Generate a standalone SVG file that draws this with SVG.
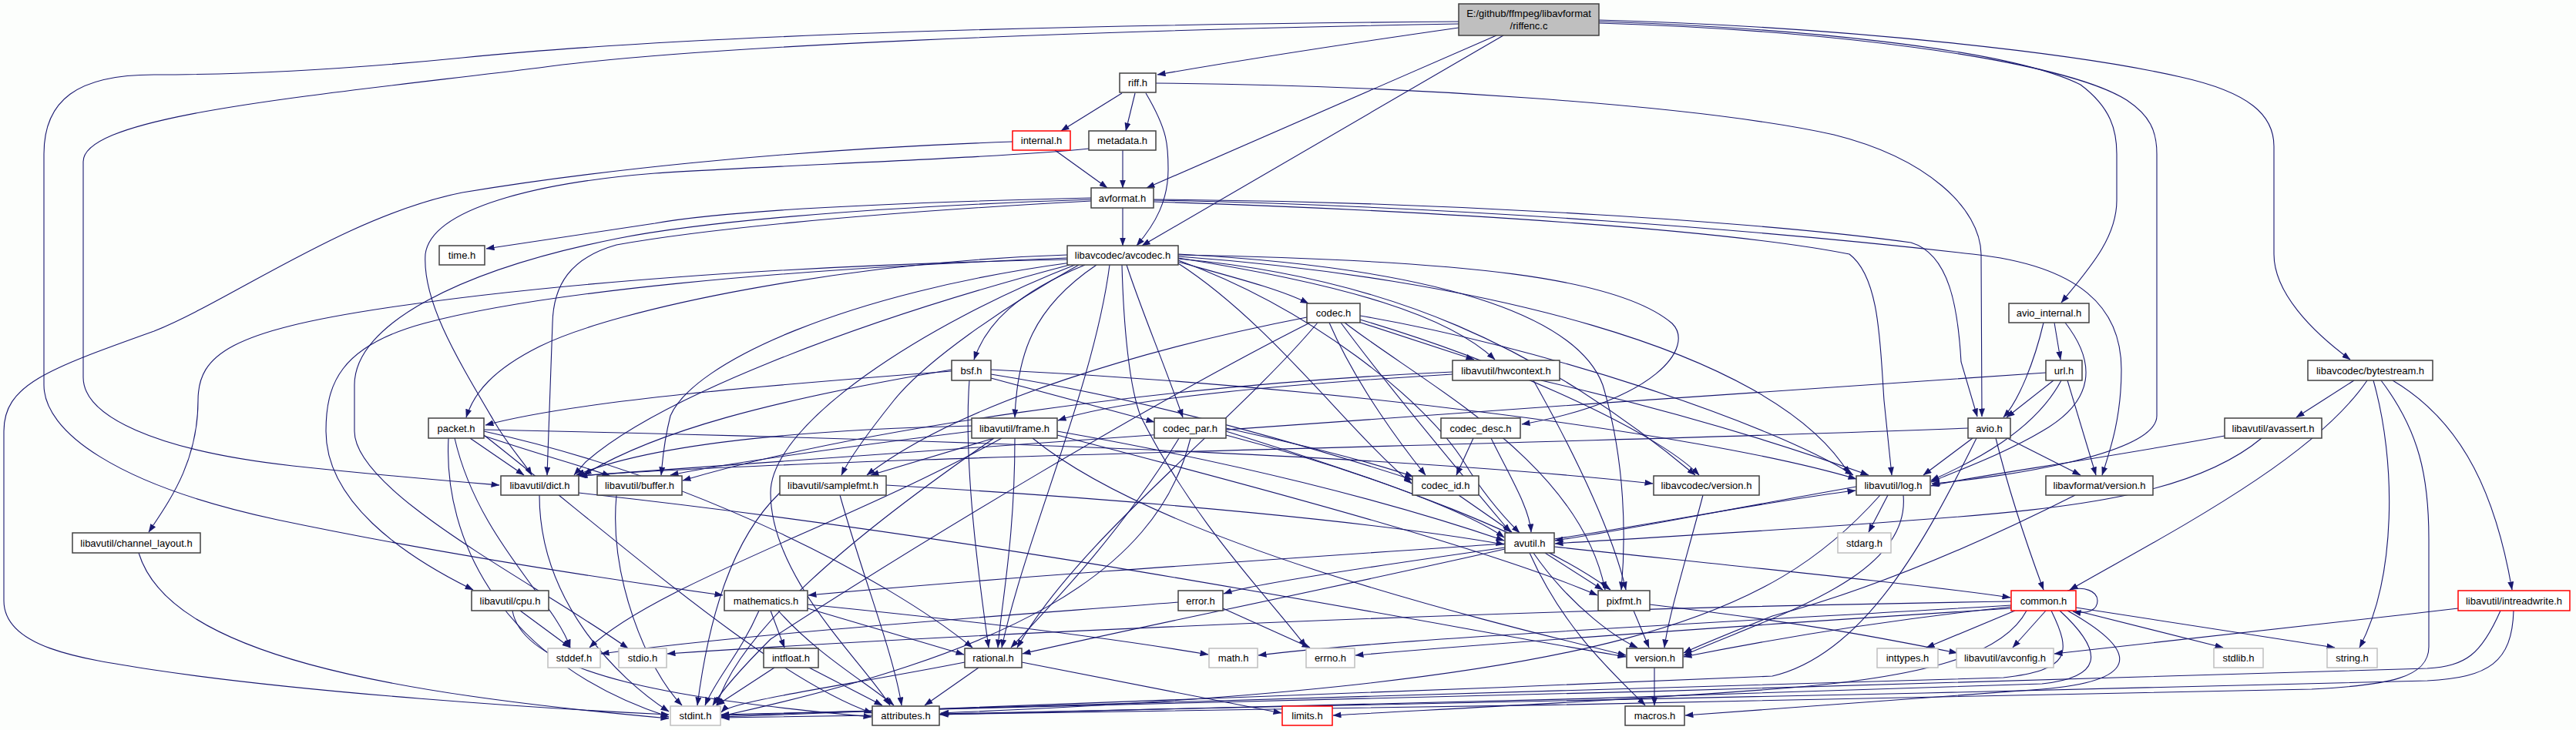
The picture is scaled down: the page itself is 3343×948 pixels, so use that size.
<svg xmlns="http://www.w3.org/2000/svg" width="3343" height="948" viewBox="0 0 3343 948">
<style>
.n rect{fill:#fff;stroke:#404040;stroke-width:1.5}
.g rect{fill:#fff;stroke:#bfbfbf;stroke-width:1.5}
.r rect{fill:#fff;stroke:#ff0000;stroke-width:1.5}
.root rect{fill:#bfbfbf;stroke:#404040;stroke-width:1.5}
text{font-family:"Liberation Sans",Arial,Helvetica,sans-serif;font-size:13px;text-anchor:middle;fill:#000}
#edges path{fill:none;stroke:#191970;stroke-width:1.1;marker-end:url(#a)}
</style>
<defs>
<marker id="a" markerWidth="11" markerHeight="8" refX="10.5" refY="4" orient="auto" markerUnits="userSpaceOnUse"><path d="M0,0 L11,4 L0,8 z" fill="#191970" stroke="none"/></marker>
</defs>
<rect x="0" y="0" width="3343" height="948" fill="#fcfefc"/>
<g id="edges">
<path d="M1893,36 C1760,55 1600,80 1502,97"/>
<path d="M1942,46 L1488,244"/>
<path d="M1951,46 L1482,319"/>
<path d="M1893,28 C1400,32 900,45 600,75 C420,93 300,97 200,97 C100,97 57,130 57,200 L57,500 C57,560 150,630 360,675 C560,717 760,748 938,773"/>
<path d="M1893,31 C1400,40 900,60 700,88 C400,125 108,150 108,210 L108,490 C108,540 200,585 380,605 C500,618 600,626 648,630"/>
<path d="M2075,28 C2300,35 2600,60 2700,110 C2740,140 2747,170 2747,200 L2747,260 C2747,310 2710,350 2675,393"/>
<path d="M2075,30 C2400,40 2680,80 2760,130 C2790,150 2799,170 2799,200 L2799,540 C2799,590 2600,620 2507,628"/>
<path d="M2075,26 C2400,35 2700,70 2830,100 C2920,120 2951,150 2951,190 L2951,330 C2951,380 3000,430 3050,467"/>
<path d="M1456,121 L1377,170"/>
<path d="M1473,121 L1461,170"/>
<path d="M1487,121 C1516,170 1516,190 1516,220 C1516,260 1500,290 1475,319"/>
<path d="M1500,108 C1800,110 2200,135 2380,175 C2500,205 2570,270 2571,330 L2572,541"/>
<path d="M1369,195 L1437,244"/>
<path d="M1314,184 C1000,195 750,225 600,250 C450,280 300,390 200,430 C60,480 5,500 5,560 L5,780 C5,840 100,855 200,870 C400,900 700,920 868,928"/>
<path d="M1457,195 L1457,244"/>
<path d="M1413,193 C1300,205 1000,215 850,225 C700,237 560,270 552,330 C548,390 590,460 640,545 C660,580 680,600 690,617"/>
<path d="M1457,270 L1457,319"/>
<path d="M1416,257 C1200,262 950,272 850,290 C750,305 680,315 631,323"/>
<path d="M1416,259 C1100,270 900,290 800,310 C600,350 460,420 460,500 L460,560 C460,640 700,760 815,842"/>
<path d="M1416,261 C1100,278 900,300 800,318 C740,335 718,370 717,420 L710,617"/>
<path d="M1497,262 C1900,275 2250,300 2400,330 C2440,360 2440,450 2445,520 L2455,617"/>
<path d="M1497,259 C1900,262 2300,290 2480,315 C2530,330 2541,400 2545,470 L2566,541"/>
<path d="M1497,260 C1900,268 2300,300 2560,330 C2700,345 2753,400 2753,480 C2753,540 2740,580 2728,617"/>
<path d="M1456,344 C1458,420 1465,500 1480,540 C1550,680 1650,780 1695,840"/>
<path d="M1400,344 C1300,400 1200,470 1160,520 C1120,570 1100,600 1092,617"/>
<path d="M1395,344 C1200,420 1000,550 1000,640 C1000,750 1120,860 1155,916"/>
<path d="M1529,338 C1700,400 1850,520 1900,600 C1930,650 1960,680 1972,692"/>
<path d="M1390,341 C1100,380 900,470 870,540 C860,580 860,600 858,617"/>
<path d="M1385,335 C1000,350 700,380 550,420 C440,450 423,500 423,560 C423,650 520,720 614,766"/>
<path d="M1385,337 C1000,345 700,370 500,400 C300,430 257,460 257,520 C257,600 220,650 193,691"/>
<path d="M1388,344 C1100,420 850,520 760,600 L745,617"/>
<path d="M1423,344 C1340,400 1320,460 1317,542"/>
<path d="M1529,335 C1750,370 1880,410 1940,467"/>
<path d="M1529,333 C1900,360 2300,450 2400,616"/>
<path d="M1529,330 C1900,350 2050,420 2080,500 C2110,600 2110,700 2104,766"/>
<path d="M1440,344 C1420,500 1330,700 1300,841"/>
<path d="M1408,344 C1320,380 1280,420 1264,467"/>
<path d="M1529,340 C1600,360 1660,375 1698,394"/>
<path d="M1529,331 C1900,338 2100,360 2170,420 C2200,450 2150,520 1975,551"/>
<path d="M1462,344 C1480,400 1510,470 1535,542"/>
<path d="M1529,342 C1650,420 1750,560 1832,628"/>
<path d="M1385,331 C1100,340 800,400 700,450 C640,480 615,510 605,542"/>
<path d="M1529,336 C1800,360 2000,450 2200,617"/>
<path d="M1700,419 C1500,520 1200,700 1000,830 C960,870 935,900 925,916"/>
<path d="M1740,419 C1800,500 1900,620 1960,691"/>
<path d="M1763,418 L1913,467"/>
<path d="M1765,410 C2000,450 2300,550 2405,617"/>
<path d="M1745,419 C1850,500 2050,600 2083,766"/>
<path d="M1710,419 C1600,550 1400,700 1320,841"/>
<path d="M1696,412 C1500,450 1250,520 1125,617"/>
<path d="M1725,419 C1760,500 1820,580 1850,617"/>
<path d="M1765,415 C1950,470 2150,560 2205,617"/>
<path d="M1235,480 C1000,520 850,560 757,617"/>
<path d="M1286,480 C1700,500 2200,560 2409,622"/>
<path d="M1258,494 C1250,600 1270,750 1283,841"/>
<path d="M1286,486 C1500,520 1700,580 1833,623"/>
<path d="M1286,491 L1498,548"/>
<path d="M1235,482 C1000,500 750,520 630,552"/>
<path d="M590,569 C620,700 720,780 740,841"/>
<path d="M582,569 C575,700 650,860 868,931"/>
<path d="M628,565 C800,700 1000,880 1132,926"/>
<path d="M628,566 C700,590 760,607 792,618"/>
<path d="M610,569 L680,617"/>
<path d="M628,560 C900,620 1150,750 1262,841"/>
<path d="M628,558 C1200,570 1800,590 2145,628"/>
<path d="M1300,569 C1100,680 850,760 765,841"/>
<path d="M1290,569 C1100,700 960,820 930,916"/>
<path d="M1372,560 C1600,600 1800,650 1952,702"/>
<path d="M1261,560 C1100,580 950,600 870,617"/>
<path d="M1261,553 C1050,558 850,575 748,617"/>
<path d="M1317,569 C1317,700 1300,780 1295,841"/>
<path d="M1290,569 L1130,617"/>
<path d="M1372,565 C1700,650 1950,720 2073,773"/>
<path d="M1340,569 C1500,700 1900,800 2110,851"/>
<path d="M1545,569 C1500,750 1300,850 936,930"/>
<path d="M1591,560 C1750,610 1900,660 1952,698"/>
<path d="M1530,569 C1450,700 1350,800 1312,841"/>
<path d="M1591,565 C1800,620 2000,700 2090,766"/>
<path d="M1591,556 C1700,580 1780,600 1834,619"/>
<path d="M1935,569 C1960,620 1985,660 1987,691"/>
<path d="M1912,569 L1890,617"/>
<path d="M1893,643 L1962,691"/>
<path d="M2210,643 C2190,720 2165,800 2160,841"/>
<path d="M1885,483 C1500,500 1100,560 886,624"/>
<path d="M1885,486 C1650,500 1450,520 1373,546"/>
<path d="M2000,494 C2200,540 2350,590 2425,617"/>
<path d="M1990,494 C2050,600 2095,700 2110,766"/>
<path d="M1012,640 C950,700 920,800 905,916"/>
<path d="M1150,630 C1500,650 1800,680 1952,707"/>
<path d="M1090,643 C1120,750 1160,850 1170,916"/>
<path d="M700,643 C700,780 800,880 868,924"/>
<path d="M751,640 C1300,700 1800,800 2110,853"/>
<path d="M800,643 C790,750 840,870 885,916"/>
<path d="M180,718 C220,850 500,900 868,933"/>
<path d="M675,793 L740,841"/>
<path d="M665,793 C680,880 900,910 1131,931"/>
<path d="M2017,710 C2300,740 2500,760 2609,776"/>
<path d="M1953,711 C1750,740 1620,760 1588,771"/>
<path d="M1953,713 C1700,770 1450,820 1327,849"/>
<path d="M1990,718 C2040,790 2100,830 2125,841"/>
<path d="M1985,718 C2030,820 2100,880 2135,916"/>
<path d="M1953,706 C1600,730 1300,750 1049,773"/>
<path d="M2017,700 C2150,680 2300,650 2408,637"/>
<path d="M2005,718 L2080,766"/>
<path d="M2450,643 L2425,691"/>
<path d="M2409,632 C2250,660 2100,690 2018,702"/>
<path d="M2440,643 C2300,800 2100,890 1221,926"/>
<path d="M2470,643 C2480,750 2300,800 2185,851"/>
<path d="M2141,785 C2350,810 2450,830 2540,848"/>
<path d="M2120,793 L2140,841"/>
<path d="M2147,867 L2147,916"/>
<path d="M1587,790 L1700,841"/>
<path d="M1529,782 C1300,800 1000,820 780,849"/>
<path d="M985,793 C960,850 930,880 915,916"/>
<path d="M1048,785 C1300,810 1450,830 1568,850"/>
<path d="M1010,793 C1060,850 1130,890 1160,916"/>
<path d="M1048,790 L1251,850"/>
<path d="M1000,793 L1018,841"/>
<path d="M1005,867 L930,916"/>
<path d="M1050,867 L1145,916"/>
<path d="M1252,860 C1100,890 950,910 936,925"/>
<path d="M1326,860 L1663,926"/>
<path d="M1270,867 L1200,916"/>
<path d="M2683,767 C2705,760 2722,768 2722,780 C2722,792 2710,798 2690,794"/>
<path d="M2655,793 L2612,841"/>
<path d="M2615,793 L2500,841"/>
<path d="M2694,793 L2885,841"/>
<path d="M2694,789 L3030,841"/>
<path d="M2610,790 C2300,810 2000,830 1759,851"/>
<path d="M2610,786 C2200,810 1800,830 1633,851"/>
<path d="M2610,781 C2000,790 1300,820 866,849"/>
<path d="M2610,788 C2450,805 2300,830 2185,853"/>
<path d="M2662,793 C2690,850 2685,870 2600,880 C2000,900 1400,920 936,929"/>
<path d="M2673,793 C2735,850 2725,880 2650,888 C2200,905 1600,920 1220,928"/>
<path d="M2683,793 C2785,850 2770,885 2650,895 C2450,910 2300,922 2187,929"/>
<path d="M2630,793 C2600,850 2500,880 2300,895 C2100,910 1850,922 1730,929"/>
<path d="M3190,790 C3000,812 2800,835 2666,849"/>
<path d="M3245,793 C3220,850 3200,865 3150,868 C2500,890 1500,915 936,928"/>
<path d="M3262,793 C3260,860 3230,880 3150,884 C2500,900 1700,920 1220,927"/>
<path d="M3055,494 L2980,542"/>
<path d="M3072,494 C3000,600 2800,700 2686,766"/>
<path d="M3080,494 C3110,600 3110,750 3062,841"/>
<path d="M3105,494 C3200,550 3240,650 3260,766"/>
<path d="M3090,494 C3140,560 3152,620 3152,700 L3152,840 C3152,880 3100,890 3000,895 C2400,910 1500,925 936,932"/>
<path d="M2935,569 C2850,640 2700,660 2490,675 C2300,690 2100,700 2018,706"/>
<path d="M2887,566 C2700,600 2550,620 2506,631"/>
<path d="M2665,494 L2604,542"/>
<path d="M2683,494 L2720,617"/>
<path d="M2675,494 C2640,560 2560,600 2506,624"/>
<path d="M2655,484 C2000,528 1200,585 750,618"/>
<path d="M2590,569 C2610,650 2635,720 2652,766"/>
<path d="M2560,569 L2496,617"/>
<path d="M2605,569 L2700,617"/>
<path d="M2554,556 C2000,578 1100,592 752,618"/>
<path d="M2565,569 C2500,700 2420,850 2300,878 C1800,900 1200,920 936,931"/>
<path d="M2666,419 L2674,467"/>
<path d="M2652,419 C2640,470 2620,520 2600,542"/>
<path d="M2680,419 C2720,470 2720,520 2650,560 C2600,590 2530,615 2506,626"/>
<path d="M2693,643 C2600,690 2450,760 2300,800 C2250,820 2200,840 2185,848"/>
</g>
<g id="n_riffenc" class="root"><rect x="1893" y="5" width="182" height="41"/><text x="1984" y="22">E:/github/ffmpeg/libavformat</text><text x="1984" y="38">/riffenc.c</text></g>
<g id="n_riff" class="n"><rect x="1453" y="95" width="47" height="25"/><text x="1476.5" y="112">riff.h</text></g>
<g id="n_internal" class="r"><rect x="1314" y="170" width="75" height="25"/><text x="1351.5" y="187">internal.h</text></g>
<g id="n_metadata" class="n"><rect x="1413" y="170" width="87" height="25"/><text x="1456.5" y="187">metadata.h</text></g>
<g id="n_avformat" class="n"><rect x="1416" y="244" width="81" height="26"/><text x="1456.5" y="262">avformat.h</text></g>
<g id="n_time" class="n"><rect x="570" y="319" width="59" height="25"/><text x="599.5" y="336">time.h</text></g>
<g id="n_avcodec" class="n"><rect x="1385" y="319" width="144" height="25"/><text x="1457" y="336">libavcodec/avcodec.h</text></g>
<g id="n_codec" class="n"><rect x="1696" y="394" width="69" height="25"/><text x="1730.5" y="411">codec.h</text></g>
<g id="n_avio_internal" class="n"><rect x="2607" y="394" width="104" height="25"/><text x="2659" y="411">avio_internal.h</text></g>
<g id="n_bsf" class="n"><rect x="1235" y="468" width="51" height="26"/><text x="1260.5" y="486">bsf.h</text></g>
<g id="n_hwcontext" class="n"><rect x="1885" y="468" width="139" height="26"/><text x="1954.5" y="486">libavutil/hwcontext.h</text></g>
<g id="n_url" class="n"><rect x="2655" y="468" width="47" height="26"/><text x="2678.5" y="486">url.h</text></g>
<g id="n_bytestream" class="n"><rect x="2995" y="468" width="162" height="26"/><text x="3076" y="486">libavcodec/bytestream.h</text></g>
<g id="n_packet" class="n"><rect x="556" y="543" width="72" height="26"/><text x="592" y="561">packet.h</text></g>
<g id="n_frame" class="n"><rect x="1261" y="543" width="111" height="26"/><text x="1316.5" y="561">libavutil/frame.h</text></g>
<g id="n_codec_par" class="n"><rect x="1498" y="543" width="93" height="26"/><text x="1544.5" y="561">codec_par.h</text></g>
<g id="n_codec_desc" class="n"><rect x="1870" y="543" width="103" height="26"/><text x="1921.5" y="561">codec_desc.h</text></g>
<g id="n_avio" class="n"><rect x="2554" y="543" width="55" height="26"/><text x="2581.5" y="561">avio.h</text></g>
<g id="n_avassert" class="n"><rect x="2887" y="543" width="126" height="26"/><text x="2950" y="561">libavutil/avassert.h</text></g>
<g id="n_dict" class="n"><rect x="650" y="618" width="101" height="25"/><text x="700.5" y="635">libavutil/dict.h</text></g>
<g id="n_buffer" class="n"><rect x="775" y="618" width="110" height="25"/><text x="830" y="635">libavutil/buffer.h</text></g>
<g id="n_samplefmt" class="n"><rect x="1012" y="618" width="138" height="25"/><text x="1081" y="635">libavutil/samplefmt.h</text></g>
<g id="n_codec_id" class="n"><rect x="1833" y="618" width="86" height="25"/><text x="1876" y="635">codec_id.h</text></g>
<g id="n_lavc_version" class="n"><rect x="2146" y="618" width="137" height="25"/><text x="2214.5" y="635">libavcodec/version.h</text></g>
<g id="n_log" class="n"><rect x="2409" y="618" width="96" height="25"/><text x="2457" y="635">libavutil/log.h</text></g>
<g id="n_lavf_version" class="n"><rect x="2655" y="618" width="139" height="25"/><text x="2724.5" y="635">libavformat/version.h</text></g>
<g id="n_channel_layout" class="n"><rect x="94" y="692" width="166" height="26"/><text x="177" y="710">libavutil/channel_layout.h</text></g>
<g id="n_avutil" class="n"><rect x="1953" y="692" width="64" height="26"/><text x="1985" y="710">avutil.h</text></g>
<g id="n_stdarg" class="g"><rect x="2385" y="692" width="69" height="26"/><text x="2419.5" y="710">stdarg.h</text></g>
<g id="n_cpu" class="n"><rect x="612" y="767" width="100" height="26"/><text x="662" y="785">libavutil/cpu.h</text></g>
<g id="n_mathematics" class="n"><rect x="940" y="767" width="108" height="26"/><text x="994" y="785">mathematics.h</text></g>
<g id="n_error" class="n"><rect x="1529" y="767" width="58" height="26"/><text x="1558" y="785">error.h</text></g>
<g id="n_pixfmt" class="n"><rect x="2074" y="767" width="67" height="26"/><text x="2107.5" y="785">pixfmt.h</text></g>
<g id="n_common" class="r"><rect x="2610" y="767" width="84" height="26"/><text x="2652" y="785">common.h</text></g>
<g id="n_intreadwrite" class="r"><rect x="3190" y="767" width="145" height="26"/><text x="3262.5" y="785">libavutil/intreadwrite.h</text></g>
<g id="n_stddef" class="g"><rect x="711" y="842" width="68" height="25"/><text x="745" y="859">stddef.h</text></g>
<g id="n_stdio" class="g"><rect x="803" y="842" width="62" height="25"/><text x="834" y="859">stdio.h</text></g>
<g id="n_intfloat" class="n"><rect x="991" y="842" width="71" height="25"/><text x="1026.5" y="859">intfloat.h</text></g>
<g id="n_rational" class="n"><rect x="1252" y="842" width="74" height="25"/><text x="1289" y="859">rational.h</text></g>
<g id="n_math" class="g"><rect x="1569" y="842" width="63" height="25"/><text x="1600.5" y="859">math.h</text></g>
<g id="n_errno" class="g"><rect x="1695" y="842" width="63" height="25"/><text x="1726.5" y="859">errno.h</text></g>
<g id="n_version" class="n"><rect x="2111" y="842" width="73" height="25"/><text x="2147.5" y="859">version.h</text></g>
<g id="n_inttypes" class="g"><rect x="2436" y="842" width="79" height="25"/><text x="2475.5" y="859">inttypes.h</text></g>
<g id="n_avconfig" class="g"><rect x="2539" y="842" width="126" height="25"/><text x="2602" y="859">libavutil/avconfig.h</text></g>
<g id="n_stdlib" class="g"><rect x="2873" y="842" width="64" height="25"/><text x="2905" y="859">stdlib.h</text></g>
<g id="n_string" class="g"><rect x="3020" y="842" width="65" height="25"/><text x="3052.5" y="859">string.h</text></g>
<g id="n_stdint" class="g"><rect x="870" y="917" width="65" height="25"/><text x="902.5" y="934">stdint.h</text></g>
<g id="n_attributes" class="n"><rect x="1132" y="917" width="87" height="25"/><text x="1175.5" y="934">attributes.h</text></g>
<g id="n_limits" class="r"><rect x="1664" y="917" width="65" height="25"/><text x="1696.5" y="934">limits.h</text></g>
<g id="n_macros" class="n"><rect x="2109" y="917" width="77" height="25"/><text x="2147.5" y="934">macros.h</text></g>
</svg>
